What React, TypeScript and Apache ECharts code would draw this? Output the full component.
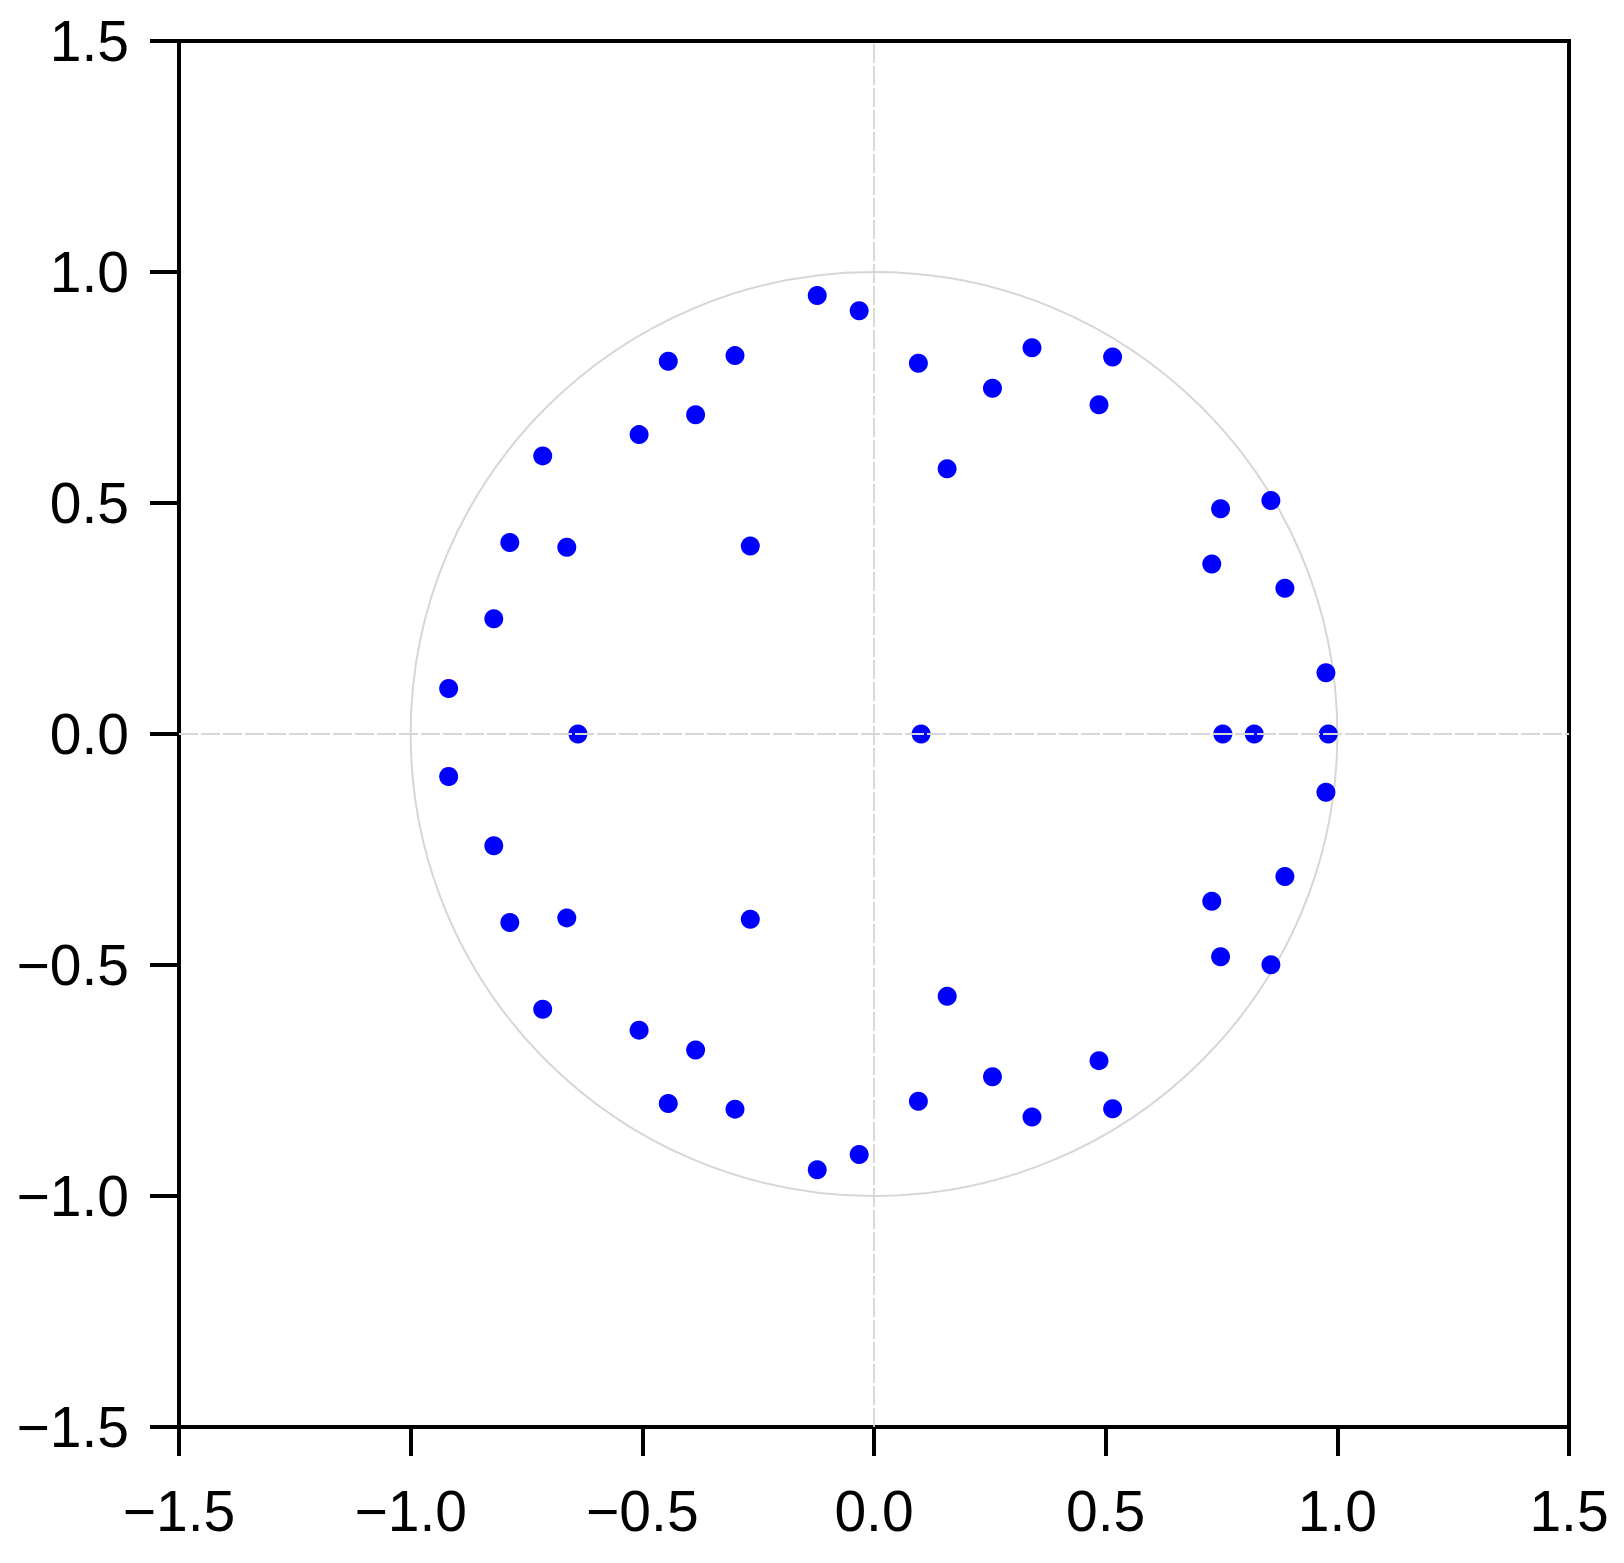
import React, { useEffect, useRef } from "react";
import * as echarts from "echarts";

// Root locations
const pointX = [
  -0.1225, -0.032, -0.444, -0.3, -0.385, -0.507, -0.715, -0.786, -0.663, -0.267, -0.8206, -0.918,
  0.0958, 0.341, 0.515, 0.2557, 0.4856, 0.1578, 0.748, 0.8566, 0.729, 0.8868, 0.9754,
  -0.639, 0.1016, 0.7528, 0.8206, 0.9805,
  -0.1225, -0.032, -0.444, -0.3, -0.385, -0.507, -0.715, -0.786, -0.663, -0.267, -0.8206, -0.918,
  0.0958, 0.341, 0.515, 0.2557, 0.4856, 0.158, 0.748, 0.8566, 0.729, 0.8868, 0.9754,
];
const pointY = [
  0.949, 0.916, 0.807, 0.819, 0.691, 0.648, 0.602, 0.4145, 0.404, 0.407, 0.2493, 0.0985,
  0.8026, 0.836, 0.816, 0.7485, 0.7126, 0.574, 0.4874, 0.5054, 0.368, 0.3156, 0.1325,
  0, 0, 0, 0, 0,
  -0.943, -0.91, -0.8, -0.812, -0.684, -0.641, -0.596, -0.408, -0.398, -0.401, -0.242, -0.092,
  -0.795, -0.829, -0.811, -0.742, -0.707, -0.5675, -0.482, -0.4996, -0.362, -0.3085, -0.126,
];

// Unit circle reference
const circleCenter = [0, 0];
const circleRadius = 1;

// Axis ticks
const axisMin = -1.5;
const axisMax = 1.5;
const axisStep = 0.5;

const fmt = (v: number) => v.toFixed(1).replace("-", "\u2212");

export default function App() {
  const ref = useRef<HTMLDivElement>(null);
  useEffect(() => {
    document.body.style.margin = "0";
    if (!ref.current) return;
    const chart = echarts.init(ref.current, null, { renderer: "svg" });
    const points = pointX.map((x, i) => [x, pointY[i]]);
    const axisCommon = {
      type: "value",
      min: axisMin,
      max: axisMax,
      interval: axisStep,
      splitLine: { show: false },
      axisLine: { show: true, onZero: false, lineStyle: { color: "#000", width: 4 } },
      axisTick: { show: true, length: 29, lineStyle: { color: "#000", width: 4 } },
    };
    chart.setOption({
      animation: false,
      backgroundColor: "#fff",
      textStyle: { fontFamily: "Liberation Sans" },
      grid: {
        left: 179,
        top: 41,
        width: 1390,
        height: 1386,
        show: true,
        borderColor: "#000",
        borderWidth: 4,
        backgroundColor: "transparent",
      },
      xAxis: {
        ...axisCommon,
        axisLabel: {
          fontSize: 57,
          color: "#000",
          margin: 55,
          formatter: fmt,
          fontFamily: "Liberation Sans",
        },
      },
      yAxis: {
        ...axisCommon,
        axisLabel: {
          fontSize: 57,
          color: "#000",
          margin: 50,
          formatter: fmt,
          fontFamily: "Liberation Sans",
        },
      },
      series: [
        {
          type: "custom",
          z: 1,
          silent: true,
          data: [[circleCenter[0], circleCenter[1], circleRadius]],
          renderItem: (params: any, api: any) => {
            const c = api.coord([api.value(0), api.value(1)]);
            const s = api.size([api.value(2), api.value(2)]);
            return {
              type: "ellipse",
              shape: { cx: c[0], cy: c[1], rx: s[0], ry: s[1] },
              style: { stroke: "#d6d6d6", lineWidth: 2, fill: "none" },
            };
          },
          markLine: {
            silent: true,
            symbol: ["none", "none"],
            label: { show: false },
            lineStyle: { color: "#d6d6d6", width: 1.8, type: [19, 3] },
            data: [{ xAxis: 0 }, { yAxis: 0 }],
          },
        },
        {
          type: "scatter",
          z: 3,
          symbol: "circle",
          symbolSize: 19,
          itemStyle: { color: "#0000ff", opacity: 1 },
          data: points,
        },
      ],
    });
    return () => chart.dispose();
  }, []);
  return <div ref={ref} style={{ width: 1624, height: 1563 }} />;
}
